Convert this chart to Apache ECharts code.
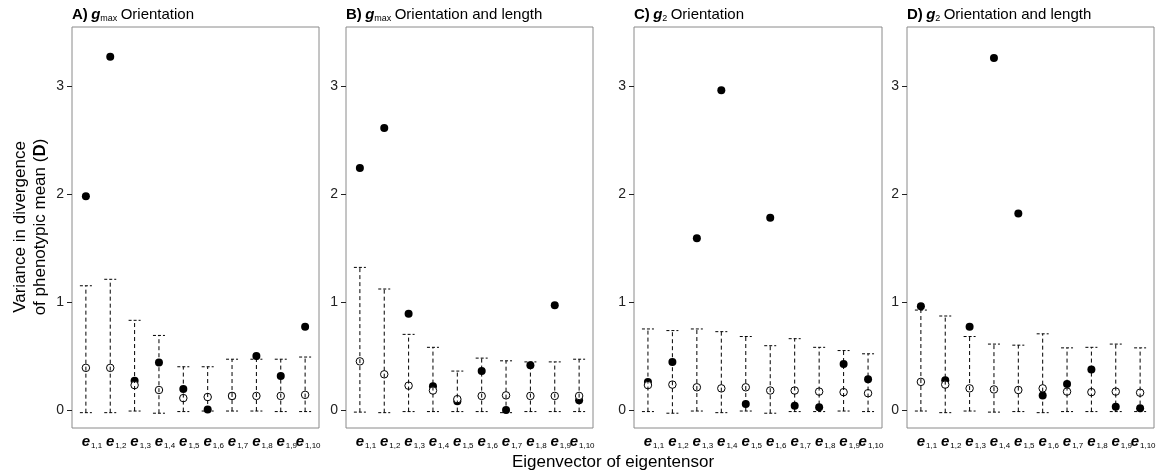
<!DOCTYPE html>
<html>
<head>
<meta charset="utf-8">
<script src="https://cdn.jsdelivr.net/npm/echarts@6/dist/echarts.min.js"></script>
<style>
  html, body { margin: 0; padding: 0; background: #fff; }
  #chart { width: 1156px; height: 473px; }
</style>
</head>
<body>
<div id="chart"></div>
<script>
// eigenvector labels e_{1,k}
const categories = ['1,1', '1,2', '1,3', '1,4', '1,5', '1,6', '1,7', '1,8', '1,9', '1,10']
const yTicks = [0, 1, 2, 3]

// A) g_max orientation
const obsA = [1.98, 3.27, 0.27, 0.44, 0.195, 0.005, 0.13, 0.50, 0.315, 0.77]
const meanA = [0.39, 0.39, 0.23, 0.185, 0.11, 0.12, 0.13, 0.13, 0.13, 0.14]
const hiA = [1.15, 1.21, 0.83, 0.69, 0.40, 0.40, 0.47, 0.47, 0.47, 0.49]
const loA = [-0.025, -0.025, -0.01, -0.03, -0.015, -0.01, -0.01, -0.01, -0.015, -0.015]

// B) g_max orientation and length
const obsB = [2.24, 2.61, 0.89, 0.22, 0.08, 0.36, 0.0, 0.415, 0.97, 0.09]
const meanB = [0.45, 0.33, 0.225, 0.18, 0.10, 0.13, 0.135, 0.13, 0.13, 0.13]
const hiB = [1.32, 1.12, 0.70, 0.58, 0.36, 0.48, 0.455, 0.445, 0.445, 0.47]
const loB = [-0.02, -0.025, -0.015, -0.015, -0.015, -0.015, -0.025, -0.015, -0.015, -0.015]

// C) g_2 orientation
const obsC = [0.26, 0.445, 1.59, 2.96, 0.055, 1.78, 0.04, 0.025, 0.425, 0.285]
const meanC = [0.23, 0.235, 0.21, 0.20, 0.21, 0.18, 0.18, 0.17, 0.165, 0.155]
const hiC = [0.75, 0.735, 0.75, 0.725, 0.68, 0.595, 0.66, 0.58, 0.55, 0.52]
const loC = [-0.015, -0.03, -0.01, -0.025, -0.01, -0.03, -0.015, -0.015, -0.01, -0.015]

// D) g_2 orientation and length
const obsD = [0.96, 0.275, 0.77, 3.26, 1.82, 0.135, 0.24, 0.375, 0.03, 0.015]
const meanD = [0.26, 0.235, 0.20, 0.19, 0.185, 0.20, 0.17, 0.165, 0.17, 0.16]
const hiD = [0.925, 0.87, 0.68, 0.61, 0.60, 0.705, 0.575, 0.58, 0.61, 0.575]
const loD = [-0.01, -0.025, -0.01, -0.02, -0.015, -0.025, -0.015, -0.015, -0.015, -0.015]

const panels = [
  { letter: 'A)', sub: 'max', rest: 'Orientation', obs: obsA, mean: meanA, hi: hiA, lo: loA, left: 72, width: 247 },
  { letter: 'B)', sub: 'max', rest: 'Orientation and length', obs: obsB, mean: meanB, hi: hiB, lo: loB, left: 346, width: 247 },
  { letter: 'C)', sub: '2', rest: 'Orientation', obs: obsC, mean: meanC, hi: hiC, lo: loC, left: 634, width: 248 },
  { letter: 'D)', sub: '2', rest: 'Orientation and length', obs: obsD, mean: meanD, hi: hiD, lo: loD, left: 907, width: 247 }
]

const FONT = '"Liberation Sans", Arial, Helvetica, sans-serif'
const gridTop = 27
const gridHeight = 401

const chart = echarts.init(document.getElementById('chart'))

const grids = []
const xAxes = []
const yAxes = []
const series = []
const graphics = []

panels.forEach((p, i) => {
  grids.push({
    left: p.left, top: gridTop, width: p.width, height: gridHeight,
    outerBoundsMode: 'none', containLabel: false,
    show: true, borderColor: '#8a8a8a', borderWidth: 1, backgroundColor: 'transparent'
  })
  xAxes.push({
    type: 'value', gridIndex: i, min: 0.43, max: 10.57, minInterval: 1, maxInterval: 1,
    axisLine: { show: false }, axisTick: { show: false }, splitLine: { show: false },
    axisLabel: {
      margin: 5, showMinLabel: false, showMaxLabel: false, hideOverlap: false,
      formatter: v => {
        const k = Math.round(v)
        if (Math.abs(v - k) > 1e-6 || k < 1 || k > categories.length) return ''
        const sub = categories[k - 1]
        // spacer keeps the "e" near its position, as in the original
        return (sub.length > 3 ? '{q| }' : '{p| }') + '{e|e}{s|' + sub + '}'
      },
      rich: {
        p: { fontFamily: FONT, fontSize: 8, width: 12 },
        q: { fontFamily: FONT, fontSize: 8, width: 6 },
        e: { fontFamily: FONT, fontSize: 15, fontWeight: 'bold', fontStyle: 'italic', color: '#000' },
        s: { fontFamily: FONT, fontSize: 8, color: '#000', padding: [9, 0, 0, 1] }
      }
    }
  })
  yAxes.push({
    type: 'value', gridIndex: i, min: -0.167, max: 3.546, minInterval: 1, maxInterval: 1,
    axisLine: { show: false },
    axisTick: { show: true, inside: false, length: 5, lineStyle: { color: '#222', width: 1 } },
    splitLine: { show: false },
    axisLabel: {
      margin: 8, fontFamily: FONT, fontSize: 14, color: '#222', showMinLabel: false, showMaxLabel: false,
      formatter: v => (yTicks.indexOf(v) >= 0 ? String(v) : '')
    }
  })
  // observed values (filled)
  series.push({
    type: 'scatter', xAxisIndex: i, yAxisIndex: i, z: 2,
    symbol: 'circle', symbolSize: 8,
    itemStyle: { color: '#000', opacity: 1 },
    data: p.obs.map((v, k) => [k + 1, v]),
    silent: true
  })
  // null expectation (open)
  series.push({
    type: 'scatter', xAxisIndex: i, yAxisIndex: i, z: 3,
    symbol: 'circle', symbolSize: 7.5,
    itemStyle: { color: '#fff', borderColor: '#000', borderWidth: 1, opacity: 1 },
    data: p.mean.map((v, k) => [k + 1, v]),
    silent: true
  })
  // dashed intervals
  series.push({
    type: 'custom', xAxisIndex: i, yAxisIndex: i, z: 4, silent: true,
    data: p.lo.map((v, k) => [k + 1, v, p.hi[k]]),
    renderItem: (params, api) => {
      const lo = api.coord([api.value(0), api.value(1)])
      const hi = api.coord([api.value(0), api.value(2)])
      const hw = 6
      const cap = { stroke: '#000', lineWidth: 1, lineDash: [3, 2] }
      return {
        type: 'group',
        children: [
          { type: 'line', shape: { x1: lo[0], y1: lo[1], x2: hi[0], y2: hi[1] }, style: { stroke: '#000', lineWidth: 1, lineDash: [4, 3] } },
          { type: 'line', shape: { x1: hi[0] - hw, y1: hi[1], x2: hi[0] + hw, y2: hi[1] }, style: cap },
          { type: 'line', shape: { x1: lo[0] - hw, y1: lo[1], x2: lo[0] + hw, y2: lo[1] }, style: cap }
        ]
      }
    }
  })
  // panel title
  graphics.push({
    type: 'text', left: p.left, top: 7, silent: true,
    style: {
      text: '{b|' + p.letter + '} {g|g}{s|' + p.sub + '} {n|' + p.rest + '}',
      rich: {
        b: { fontFamily: FONT, fontSize: 15, fontWeight: 'bold', fill: '#000' },
        g: { fontFamily: FONT, fontSize: 15, fontWeight: 'bold', fontStyle: 'italic', fill: '#000' },
        s: { fontFamily: FONT, fontSize: 9, fill: '#000', padding: [8, 0, 0, 0] },
        n: { fontFamily: FONT, fontSize: 15, fill: '#000' }
      }
    }
  })
})

// axis names
graphics.push({
  type: 'text', x: 613, y: 462, silent: true,
  style: { text: 'Eigenvector of eigentensor', font: '17px ' + FONT, fill: '#000', align: 'center', verticalAlign: 'middle' }
})
graphics.push({
  type: 'text', x: 30, y: 227, rotation: Math.PI / 2, silent: true,
  style: {
    text: '{n|Variance in divergence}\n{n|of phenotypic mean (}{d|D}{n|)}',
    align: 'center', verticalAlign: 'middle',
    rich: {
      n: { fontFamily: FONT, fontSize: 17, fill: '#000', lineHeight: 20, align: 'center' },
      d: { fontFamily: FONT, fontSize: 17, fontWeight: 'bold', fill: '#000', lineHeight: 20 }
    }
  }
})

chart.setOption({
  animation: false,
  backgroundColor: '#fff',
  grid: grids,
  xAxis: xAxes,
  yAxis: yAxes,
  series: series,
  graphic: graphics
})
</script>
</body>
</html>
